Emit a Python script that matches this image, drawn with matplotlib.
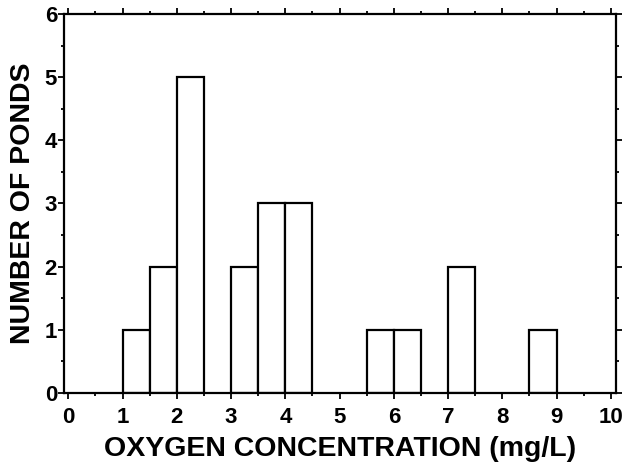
import matplotlib
matplotlib.use("Agg")
import matplotlib.pyplot as plt
import numpy as np

bin_left = [1.0, 1.5, 2.0, 3.0, 3.5, 4.0, 5.5, 6.0, 7.0, 8.5]
num_ponds = [1, 2, 5, 2, 3, 3, 1, 1, 2, 1]
bin_width = 0.5
x_ticks = list(range(0, 11))
y_ticks = list(range(0, 7))

plt.rcParams['font.family'] = ['Liberation Sans', 'DejaVu Sans']
fig = plt.figure(figsize=(6.24, 4.66), dpi=100)
ax = fig.add_axes([0.1026, 0.157, 0.885, 0.813])
ax.bar(bin_left, num_ponds, width=bin_width, align='edge', facecolor='white',
       edgecolor='black', linewidth=1.6)
ax.set_xlim(-0.08, 10.1)
ax.set_ylim(0, 6)
ax.set_xticks(x_ticks)
ax.set_yticks(y_ticks)
ax.set_xticks(np.arange(0.5, 10, 1.0), minor=True)
ax.set_yticks(np.arange(0.5, 6, 1.0), minor=True)
ax.tick_params(which='both', direction='out', top=True, right=True, labeltop=False, labelright=False,
               width=1.3)
ax.tick_params(which='major', length=4, labelsize=16)
ax.tick_params(axis='x', which='major', pad=6)
ax.tick_params(axis='y', which='major', pad=1)
ax.tick_params(which='minor', length=2.5)
for lab in ax.get_xticklabels() + ax.get_yticklabels():
    lab.set_fontweight('bold')
for s in ax.spines.values():
    s.set_linewidth(1.6)
ax.set_xlabel('OXYGEN CONCENTRATION (mg/L)', fontsize=20.5, fontweight='bold', labelpad=6)
ax.set_ylabel('NUMBER OF PONDS', fontsize=20.5, fontweight='bold', labelpad=6)
fig.savefig('out.png', dpi=100)
